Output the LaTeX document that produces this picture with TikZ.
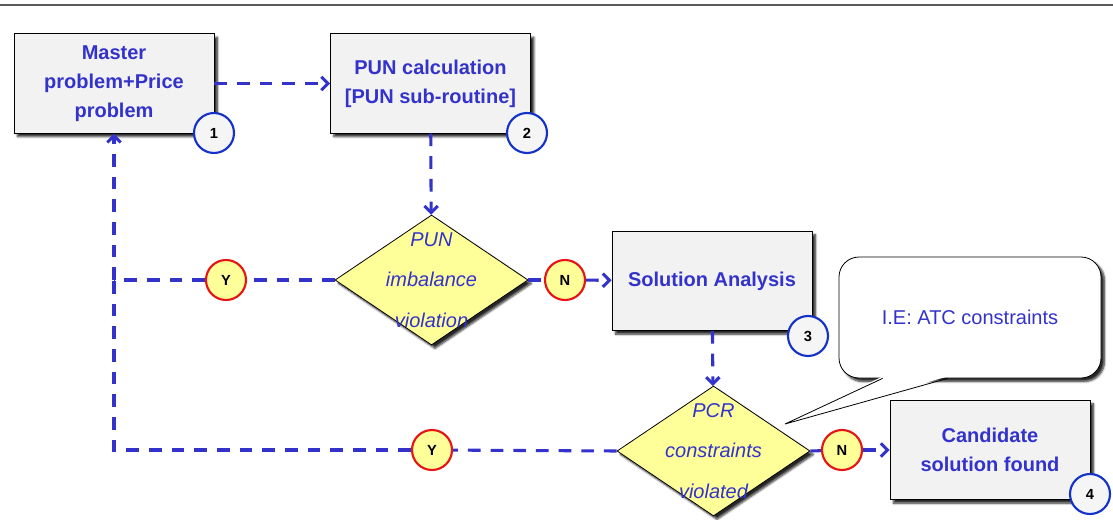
\documentclass[tikz,border=0pt]{standalone}
\usepackage{fontspec}
\setmainfont{Liberation Sans}
\usetikzlibrary{arrows.meta,shapes.geometric,shadows.blur,calc}

\begin{document}
\begin{tikzpicture}[x=0.75pt,y=0.75pt,yscale=-1,xscale=1,
  flow/.style={color={rgb, 255:red, 51; green, 51; blue, 204 }, line width=2.3pt, dash pattern=on 9.5pt off 7.5pt},
  flowarrow/.style={flow, -{Straight Barb[length=5pt,width=10pt]}},
  softshadow/.style={blur shadow={shadow xshift=2.6pt, shadow yshift=-2.6pt, shadow opacity=85, shadow blur radius=1.6pt, shadow blur steps=6}},
  stepbox/.style={draw, line width=0.6pt, fill={rgb, 255:red, 242; green, 242; blue, 242 }, minimum width=150pt, minimum height=74.5pt, align=center, text={rgb, 255:red, 51; green, 51; blue, 204 }, font=\fontsize{15}{21.75}\selectfont\bfseries, softshadow},
  decision/.style={diamond, draw, line width=0.6pt, fill={rgb, 255:red, 255; green, 255; blue, 153 }, minimum width=144.75pt, minimum height=97.5pt, inner sep=0pt, softshadow},
  decisiontext/.style={align=center, text={rgb, 255:red, 51; green, 51; blue, 204 }, font=\fontsize{15}{30.5}\selectfont\itshape},
  answer/.style={circle, draw={rgb, 255:red, 230; green, 20; blue, 20 }, line width=1.6pt, fill={rgb, 255:red, 255; green, 255; blue, 153 }, minimum size=30pt, inner sep=0pt, font=\fontsize{11}{13}\selectfont\bfseries},
  numcircle/.style={circle, draw={rgb, 255:red, 20; green, 50; blue, 200 }, line width=1.6pt, fill={rgb, 255:red, 245; green, 245; blue, 245 }, minimum size=30pt, inner sep=0pt, font=\fontsize{11}{13}\selectfont\bfseries},
  note/.style={draw, line width=0.6pt, rounded corners=15pt, fill=white, minimum width=196.5pt, minimum height=90.75pt, text={rgb, 255:red, 51; green, 51; blue, 204 }, font=\fontsize{15}{18}\selectfont, softshadow}
]
\useasboundingbox (0,0) rectangle (1113,520);

%Straight Lines
\draw [color={rgb, 255:red, 90; green, 90; blue, 90 }, line width=1.5pt] (0,5) -- (1113,5) ;

%Shape: Rectangle
\node [stepbox] (master) at (114,83.5) {Master\\problem+Price\\problem};
\node [stepbox] (pun) at (430.5,83.5) {PUN calculation\\{}[PUN sub-routine]};
\node [stepbox] (analysis) at (712,281) {Solution Analysis};
\node [stepbox] (candidate) at (990,450) {Candidate\\solution found};

%Shape: Diamond
\node [decision, label={[decisiontext]center:{PUN\\imbalance\\violation}}] (imbalance) at (431.5,280) {};
\node [decision, label={[decisiontext]center:{PCR\\constraints\\violated}}] (pcr) at (713.5,451) {};

%Shape: Circle
\node [numcircle] (one) at (214,133) {1};
\node [numcircle] (two) at (527,133) {2};
\node [numcircle] (three) at (808,336) {3};
\node [numcircle] (four) at (1090,494) {4};

\node [answer] (yesa) at (226,280) {Y};
\node [answer] (noa) at (565,280) {N};
\node [answer] (yesb) at (432,450) {Y};
\node [answer] (nob) at (842,450) {N};

%Shape: Callout
\node [note] (atc) at (970,317.5) {I.E: ATC constraints};
\coordinate (tip) at (785,424);
\fill [white] ($(atc.south west)+(44,-2)$) -- (tip) -- ($(atc.south west)+(109,-2)$) -- cycle ;
\draw [line width=0.6pt] ($(atc.south west)+(44,0)$) -- (tip) -- ($(atc.south west)+(109,0)$) ;

%Straight Lines
\coordinate (join) at (master.south |- yesa);
\draw [flowarrow] (master) -- (pun) ;
\draw [flowarrow] (pun) -- (imbalance) ;
\draw [flow] (imbalance.east) -- (noa) ;
\draw [flowarrow] (noa) -- (analysis) ;
\draw [flow] (imbalance.west) -- (yesa) ;
\draw [flow] (yesa) -- (join) ;
\draw [flowarrow] (analysis) -- (pcr) ;
\draw [flow] (pcr.east) -- (nob) ;
\draw [flowarrow] (nob) -- (candidate) ;
\draw [flow] (pcr.west) -- (yesb) ;
\draw [flow] (yesb) -| (join) ;
\draw [flowarrow] (join) -- (master) ;

\end{tikzpicture}
\end{document}
